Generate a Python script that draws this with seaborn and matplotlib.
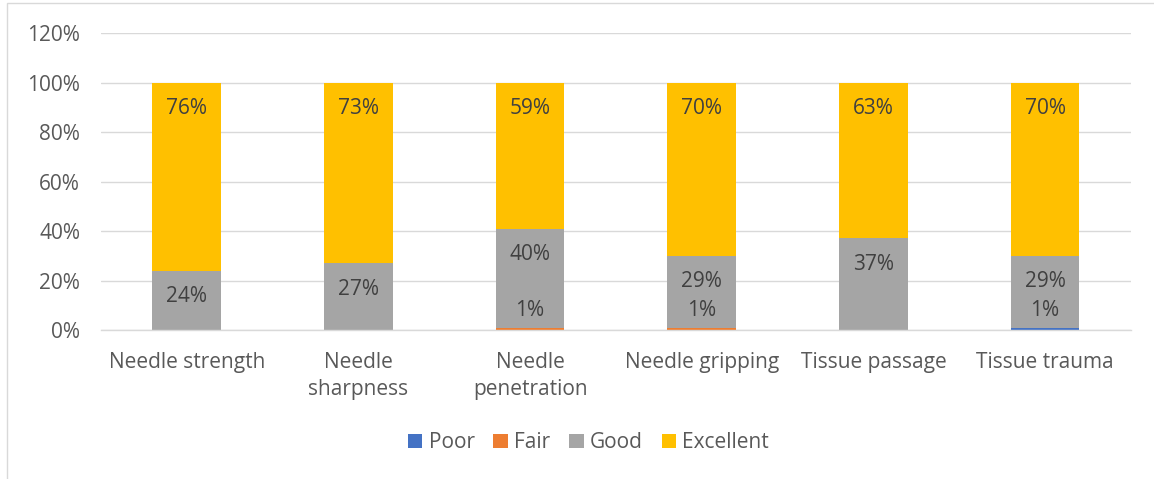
import numpy as np
import pandas as pd
import matplotlib
matplotlib.use("Agg")
import matplotlib.pyplot as plt
import seaborn as sns
from matplotlib.patches import Rectangle, Patch

categories = ["Needle strength", "Needle\nsharpness", "Needle\npenetration",
              "Needle gripping", "Tissue passage", "Tissue trauma"]
poor = [0, 0, 0, 0, 0, 1]
fair = [0, 0, 1, 1, 0, 0]
good = [24, 27, 40, 29, 37, 29]
excellent = [76, 73, 59, 70, 63, 70]
series_names = ["Poor", "Fair", "Good", "Excellent"]
colors = ["#4472C4", "#ED7D31", "#A5A5A5", "#FFC000"]
yticks = [0, 20, 40, 60, 80, 100, 120]

sns.set_theme(style="white")
plt.rcParams["font.family"] = ["Open Sans", "DejaVu Sans"]
txt = "#595959"
fs = 15

fig = plt.figure(figsize=(11.54, 4.79), dpi=100)
ax = fig.add_axes([0.0875, 0.311, 0.8925, 0.62])

series = [poor, fair, good, excellent]
cum = np.cumsum(np.array(series, dtype=float), axis=0)
df = pd.DataFrame({"cat": categories})
# draw from top total down so lower segments overlay
for k in range(3, -1, -1):
    df["v"] = cum[k]
    sns.barplot(data=df, x="cat", y="v", color=colors[k], width=0.4,
                saturation=1, ax=ax, errorbar=None, linewidth=0, zorder=2)

# labels
for k in range(4):
    for i in range(len(categories)):
        val = series[k][i]
        if val <= 0:
            continue
        top = cum[k][i]
        if val < 5:
            ax.annotate(f"{val}%", (i, 8), ha="center", va="center",
                        fontsize=fs, color="#404040", zorder=5)
        else:
            ax.annotate(f"{val}%", (i, top), xytext=(0, -26),
                        textcoords="offset pixels", ha="center", va="center",
                        fontsize=fs, color="#404040", zorder=5)

ax.set_ylim(0, 120)
ax.set_xlim(-0.5, len(categories) - 0.5)
ax.set_yticks(yticks)
ax.set_yticklabels([f"{t}%" for t in yticks], fontsize=fs, color=txt)
ax.set_xticks(range(len(categories)))
ax.set_xticklabels(categories, fontsize=fs, color=txt, linespacing=1.35)
ax.set_xlabel("")
ax.set_ylabel("")
ax.grid(axis="y", color="#D9D9D9", linewidth=1, zorder=0)
ax.set_axisbelow(True)
for s in ["top", "right", "left"]:
    ax.spines[s].set_visible(False)
ax.spines["bottom"].set_color("#D9D9D9")
ax.spines["bottom"].set_linewidth(1)
ax.tick_params(axis="y", length=0, pad=15)
ax.tick_params(axis="x", which="major", length=0, pad=16)
ax.set_xticks(np.arange(-0.5, len(categories), 1), minor=True)
ax.tick_params(axis="x", which="minor", length=6, color="#D9D9D9", width=1)

handles = [Patch(facecolor=c, edgecolor="none") for c in colors]
fig.legend(handles, series_names, loc="center", bbox_to_anchor=(0.51, 0.076),
           ncol=4, frameon=False, fontsize=fs, handlelength=0.7,
           handleheight=0.7, handletextpad=0.3, columnspacing=0.9,
           labelcolor=txt)

fig.patches.append(Rectangle((7 / 1154, -0.1), 1.2, 1 - 3 / 479 + 0.1,
                             transform=fig.transFigure, fill=False,
                             edgecolor="#D9D9D9", linewidth=1))

fig.savefig("out.png", dpi=100)
